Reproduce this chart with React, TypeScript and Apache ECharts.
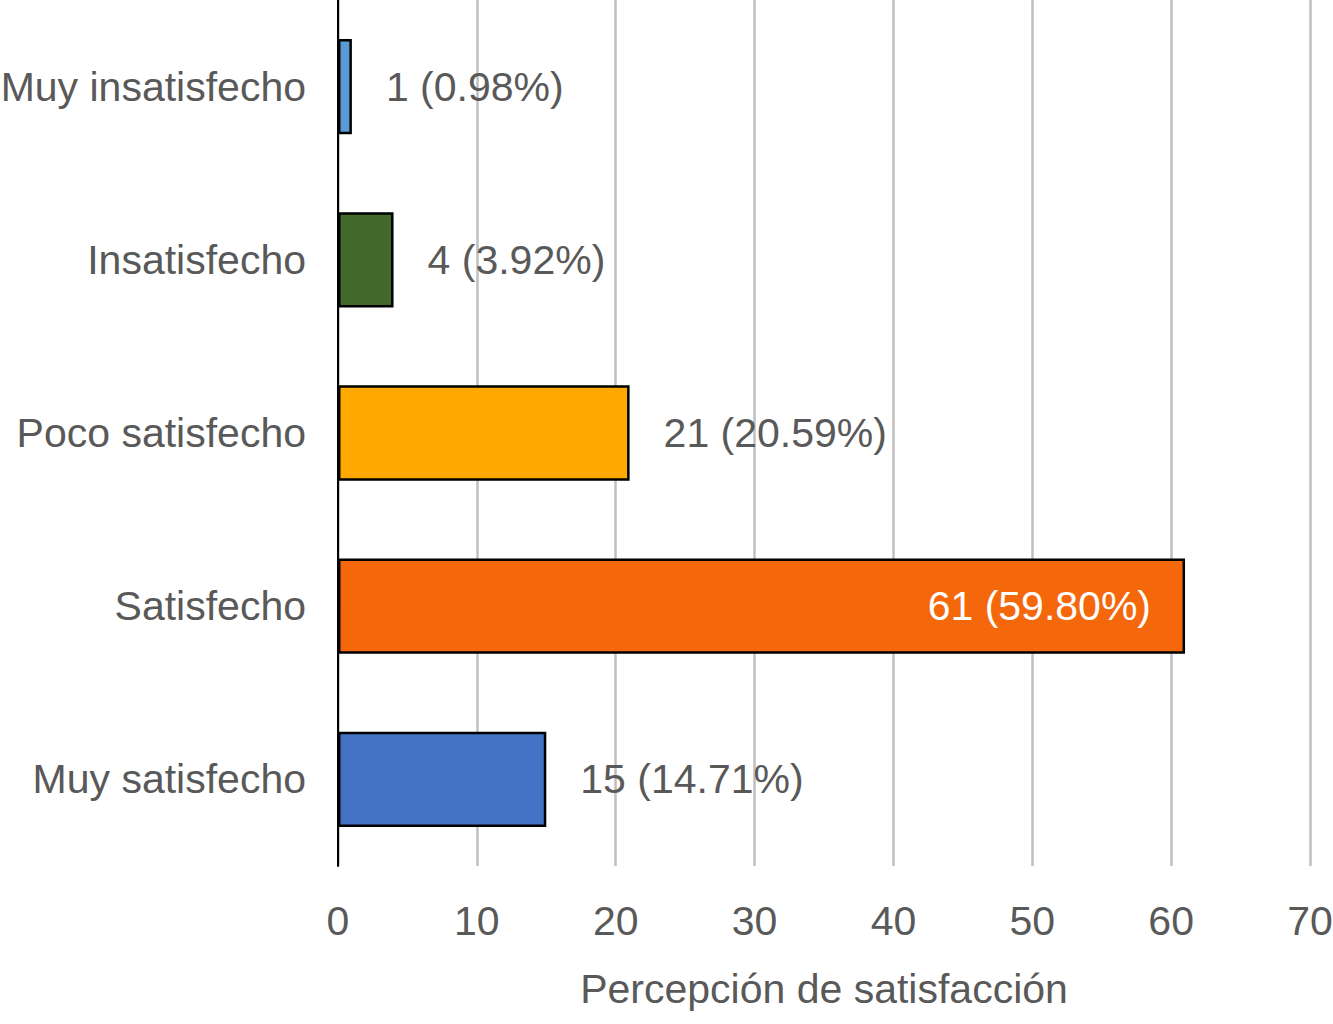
import React, { useEffect, useRef } from "react";
import * as echarts from "echarts";

const categories = ["Muy insatisfecho", "Insatisfecho", "Poco satisfecho", "Satisfecho", "Muy satisfecho"];
const counts = [1, 4, 21, 61, 15];
const percents = ["0.98%", "3.92%", "20.59%", "59.80%", "14.71%"];
const barColors = ["#5B9BD5", "#43682B", "#FFA800", "#F4680B", "#4472C4"];
const insideLabel = [false, false, false, true, false];
const xTicks = { min: 0, max: 70, interval: 10 };
const axisName = "Percepción de satisfacción";

const FONT = '"Liberation Sans Narrow", "Arial Narrow", "Liberation Sans", sans-serif';
const TEXT = "#595959";
const FS = 41;

export default function App() {
  const ref = useRef<HTMLDivElement>(null);
  useEffect(() => {
    if (!ref.current) return;
    const chart = echarts.init(ref.current, null, { renderer: "svg" });
    chart.setOption({
      animation: false,
      backgroundColor: "#ffffff",
      grid: { left: 338, right: 23, top: 0, bottom: 158, containLabel: false, outerBoundsMode: "none" },
      xAxis: {
        type: "value",
        min: xTicks.min,
        max: xTicks.max,
        interval: xTicks.interval,
        name: axisName,
        nameLocation: "middle",
        nameGap: 102,
        nameTextStyle: { fontFamily: FONT, fontSize: FS, color: TEXT },
        axisLine: { show: false },
        axisTick: { show: false },
        axisLabel: { fontFamily: FONT, fontSize: FS, color: TEXT, margin: 34 },
        splitLine: { show: true, lineStyle: { color: "#BFBFBF", width: 2.5 } },
      },
      yAxis: {
        type: "category",
        data: categories,
        inverse: true,
        axisLine: { show: true, lineStyle: { color: "#000000", width: 2 } },
        axisTick: { show: false },
        axisLabel: { fontFamily: FONT, fontSize: FS, color: TEXT, margin: 32 },
        splitLine: { show: false },
      },
      series: [
        {
          type: "bar",
          barWidth: "55%",
          data: counts.map((v, i) => ({
            value: v,
            itemStyle: { color: barColors[i], borderColor: "#000000", borderWidth: 2.5 },
            label: {
              show: true,
              position: insideLabel[i] ? "insideRight" : "right",
              distance: 34,
              color: insideLabel[i] ? "#ffffff" : TEXT,
              fontFamily: FONT,
              fontSize: FS,
              formatter: `${v} (${percents[i]})`,
            },
          })),
        },
      ],
    });
    return () => chart.dispose();
  }, []);
  return (
    <div
      ref={ref}
      style={{ position: "fixed", left: 0, top: 0, width: 1333, height: 1024, background: "#fff" }}
    />
  );
}
